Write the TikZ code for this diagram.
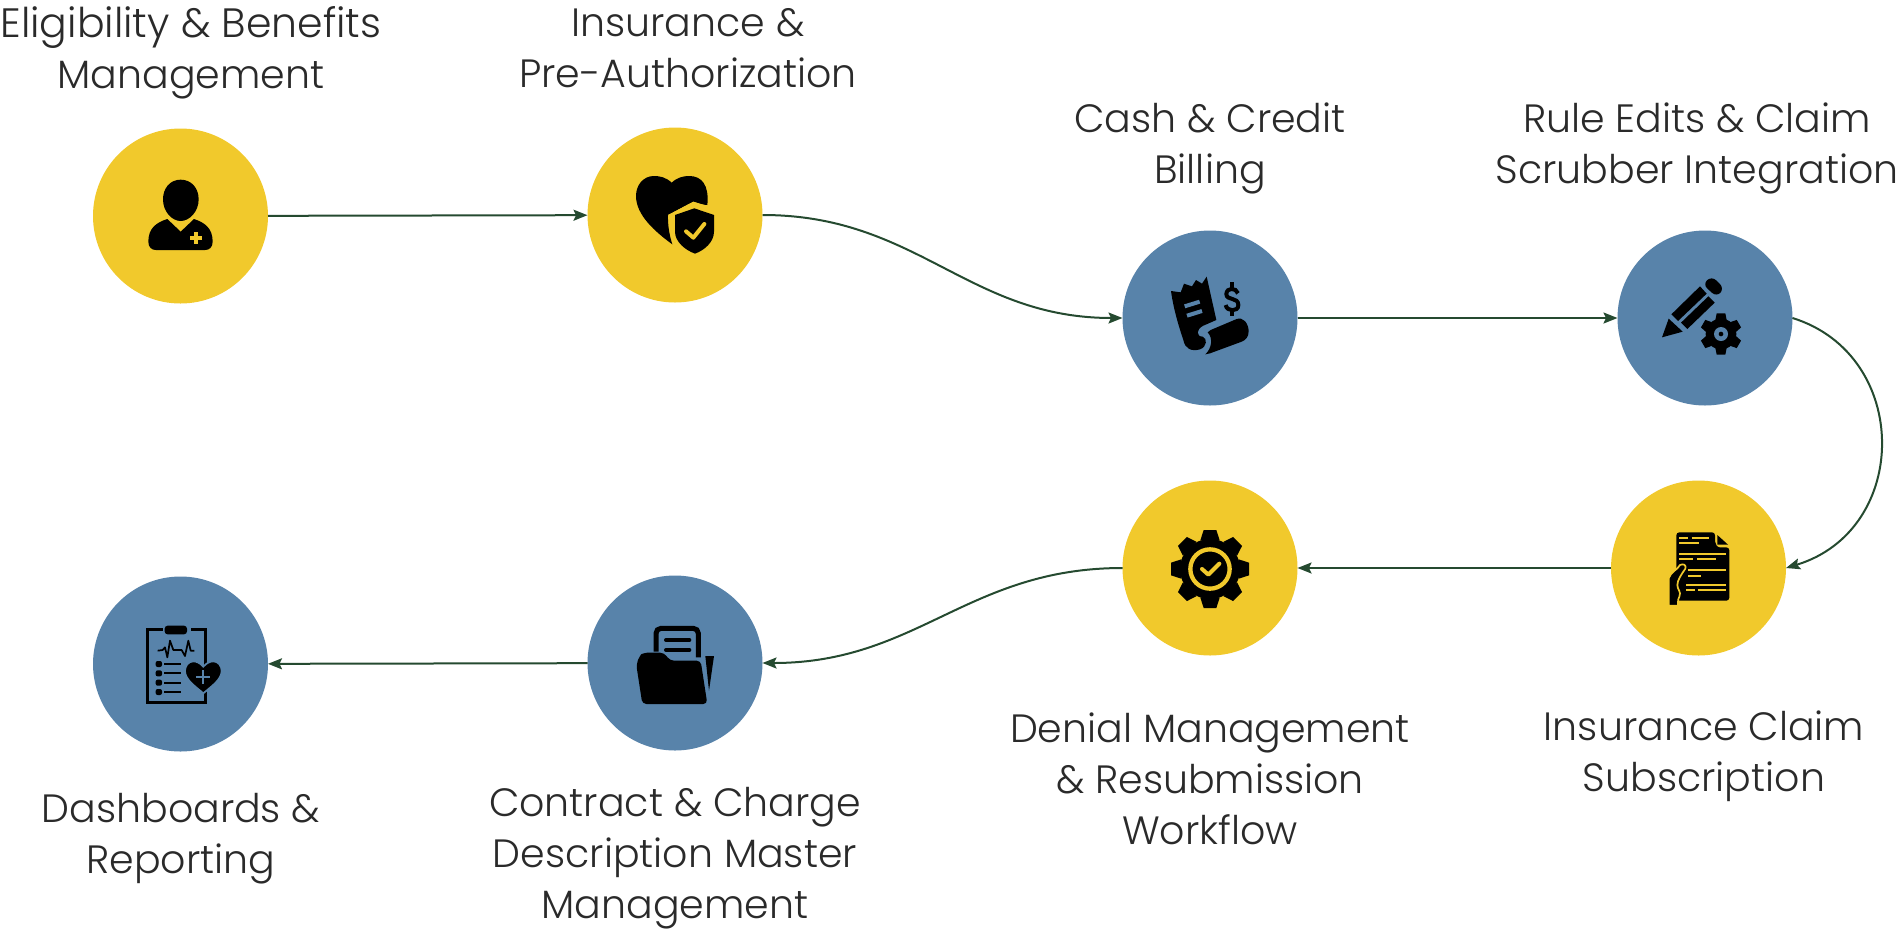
\documentclass[tikz,border=0pt]{standalone}
\usepackage{fontspec}
\setmainfont{Poppins Light}
\usetikzlibrary{arrows.meta}
\definecolor{ygold}{HTML}{F1C92C}
\definecolor{bsteel}{HTML}{5883AA}
\definecolor{gline}{HTML}{254A30}
\definecolor{ink}{HTML}{2A2A2A}
\newcommand{\gearicon}[8]{% cx cy rbody rtip basew tipw n start
  \fill (#1,#2) circle (#3);
  \foreach \i in {1,...,#7}{
    \pgfmathsetmacro{\ang}{#8+360/#7*\i}
    \fill[rotate around={\ang:(#1,#2)}] ({#1-#5/2},{#2-#3+4}) -- ({#1-#6/2},{#2-#4}) -- ({#1+#6/2},{#2-#4}) -- ({#1+#5/2},{#2-#3+4}) -- cycle;
  }
}
\tikzset{
  stage/.style={circle,minimum size=175pt,inner sep=0pt,outer sep=0pt,draw=none},
  ystage/.style={stage,fill=ygold},
  bstage/.style={stage,fill=bsteel},
  flow/.style={draw=gline,line width=2pt,-{Stealth[length=14pt,width=11pt,inset=2.5pt]}},
  lab/.style={align=center,text=ink,font=\fontsize{39.5}{51}\selectfont,inner sep=0pt},
  zoomed/.style={scale=1/3},
}
\begin{document}
\begin{tikzpicture}[x=1pt,y=-1pt]
\useasboundingbox (0,0) rectangle (1900,930);
% stages
\node[ystage] (c1) at (180.5,216) {};
\node[ystage] (c2) at (675,215) {};
\node[bstage] (c3) at (1210,318) {};
\node[bstage] (c4) at (1705,318) {};
\node[ystage] (c5) at (1698.5,568) {};
\node[ystage] (c6) at (1210,568) {};
\node[bstage] (c7) at (675,663) {};
\node[bstage] (c8) at (180.5,664) {};
% connectors
\draw[flow] (c1) -- (c2);
\draw[flow] (c2.east) .. controls +(155,0) and +(-155,0) .. (c3.west);
\draw[flow] (c3) -- (c4);
\draw[flow] (c4.east) .. controls +(119,37) and +(125,-38) .. (c5.east);
\draw[flow] (c5) -- (c6);
\draw[flow] (c6.west) .. controls +(-155,0) and +(155,0) .. (c7.east);
\draw[flow] (c7) -- (c8);
% labels
\node[lab] (l1) at (191,53) {{\fontsize{41}{51}\selectfont Eligibility \& Benefits}\\Management};
\node[lab] (l2) at (688,48.5) {Insurance \&\\Pre-Authorization};
\node[lab] (l3) at (1210,148) {Cash \& Credit\\Billing};
\node[lab] (l4) at (1697,148) {Rule Edits \& Claim\\Scrubber Integration};
\node[lab] (l5) at (1704,756) {Insurance Claim\\Subscription};
\node[lab] (l6) at (1210,779) {Denial Management\\\& Resubmission\\Workflow};
\node[lab] (l7) at (675,858) {Contract \& Charge\\Description Master\\Management};
\node[lab] (l8) at (181,839) {Dashboards \&\\Reporting};
% icon 1
\begin{scope}[shift={(90,120)},zoomed]
\fill (272,179) .. controls (305,179) and (326,205) .. (326,238) .. controls (326,275) and (298,303) .. (272,303) .. controls (246,303) and (219,275) .. (219,238) .. controls (219,205) and (240,179) .. (272,179) -- cycle;
\fill (232,297) -- (272,335) -- (312,297) .. controls (345,308) and (368,325) .. (368,365) .. controls (368,382) and (358,390) .. (345,390) -- (198,390) .. controls (185,390) and (175,382) .. (175,365) .. controls (175,325) and (198,308) .. (232,297) -- cycle;
\fill[ygold] (313,336) rectangle (325,372);
\fill[ygold] (301,348) rectangle (337,360);
\end{scope}
% icon 2
\begin{scope}[shift={(590,120)},zoomed]
\fill (245,188) .. controls (228,172) and (210,168) .. (192,168) .. controls (160,168) and (138,195) .. (138,228) .. controls (138,285) and (195,335) .. (247,373) .. controls (238,345) and (233,315) .. (234,285) -- (310,245) .. controls (325,250) and (340,255) .. (352,255) .. controls (358,195) and (335,168) .. (298,168) .. controls (280,168) and (262,172) .. (245,188) -- cycle;
\fill[ygold] (234,285) -- (310,245) -- (352,258) -- (352,290) -- (250,300) -- cycle;
\fill (255,285) -- (313,265) -- (372,285) -- (372,335) .. controls (372,365) and (345,390) .. (315,401) .. controls (285,390) and (255,365) .. (255,335) -- cycle;
\draw[ygold,line width=4pt,line cap=round,line join=round] (288,334) -- (310,353) -- (343,312);
\end{scope}
% icon 3
\begin{scope}[shift={(1110,225)},zoomed]
\fill (183,198) -- (212,202) -- (222,176) -- (246,184) -- (258,165) -- (276,176) -- (290,155) -- (319,285) -- (280,302) .. controls (258,312) and (258,335) .. (278,335) .. controls (292,340) and (292,365) .. (270,373) .. controls (245,380) and (225,372) .. (220,345) .. controls (205,300) and (190,250) .. (183,198) -- cycle;
\fill (302,315) -- (380,282) .. controls (400,275) and (415,295) .. (416,318) .. controls (416,335) and (408,345) .. (395,350) -- (300,385) -- (286,388) .. controls (305,370) and (310,340) .. (293,322) -- cycle;
\draw[bsteel,line width=4pt] (224,244) -- (269,230) (231,272) -- (276,258);
\begin{scope}[line width=4pt]
\draw (384,205) .. controls (378,187) and (350,187) .. (349,207) .. controls (349,228) and (385,215) .. (385,240) .. controls (385,262) and (350,260) .. (347,240);
\draw (367,172) -- (367,190) (367,256) -- (367,272);
\end{scope}
\end{scope}
% icon 4
\begin{scope}[shift={(1600,225)},zoomed]
\fill[rounded corners=6pt] (335,153) -- (373,190) -- (350,216) -- (308,178) -- cycle;
\fill (300,184) -- (320,206) -- (234,288) -- (214,268) -- cycle;
\fill (325,214) -- (344,233) -- (262,312) -- (243,293) -- cycle;
\fill (206,281) -- (248,320) -- (186,337) -- cycle;
\gearicon{363}{327}{46}{62}{34}{26}{6}{0}
\fill[bsteel] (363,327) circle (21);
\fill (363,327) circle (7);
\end{scope}
% icon 5
\begin{scope}[shift={(1600,470)},zoomed]
\fill[rounded corners=3pt] (229,187) -- (345,187) -- (345,205) .. controls (345,222) and (352,232) .. (368,232) -- (388,232) -- (388,392) -- (229,392) -- cycle;
\fill (352,195) -- (384,224) -- (352,224) -- cycle;
\begin{scope}[ygold,line width=2.2pt]
\draw (238,203) -- (264,203) (275,203) -- (328,203) (238,220) -- (298,220);
\draw (238,252) -- (378,252) (238,267) -- (280,267) (292,267) -- (347,267);
\draw (265,300) -- (378,300) (265,317) -- (303,317);
\draw (258,345) -- (378,345) (258,360) -- (284,360) (293,360) -- (378,360);
\end{scope}
\fill[draw=ygold,line width=1.7pt] (206,407) -- (206,325) .. controls (212,305) and (232,300) .. (240,285) .. controls (250,280) and (260,285) .. (256,296) .. controls (245,312) and (232,330) .. (232,345) .. controls (232,360) and (245,365) .. (238,380) .. controls (232,390) and (235,400) .. (234,407) -- cycle;
\end{scope}
% icon 6
\begin{scope}[shift={(1110,470)},zoomed]
\gearicon{300}{297}{90}{117}{58}{38}{8}{0}
\draw[ygold,line width=4.3pt] (300,297) circle (59);
\draw[ygold,line width=4pt,line cap=round,line join=round] (276,297) -- (295,314) -- (328,281);
\end{scope}
% icon 7
\begin{scope}[shift={(590,570)},zoomed]
\draw[line width=5pt,rounded corners=5pt] (198,245) -- (198,175) -- (325,175) -- (325,262);
\draw[line width=4pt,line cap=round] (228,210) -- (298,210) (228,240) -- (298,240);
\fill[rounded corners=4pt] (139,285) -- (148,258) -- (160,248) -- (222,248) -- (240,272) -- (332,272) -- (352,402) -- (157,402) -- cycle;
\fill (346,258) -- (372,258) -- (357,362) -- cycle;
\end{scope}
% icon 8
\begin{scope}[shift={(90,570)},zoomed]
\draw[line width=3pt] (218,178) -- (172,178) -- (172,398) -- (345,398) -- (345,178) -- (302,178);
\fill[rounded corners=3pt] (224,167) rectangle (291,193);
\draw[line width=1.7pt,line join=round] (203,242) -- (218,240) -- (225,232) -- (232,262) -- (240,212) -- (250,240) -- (275,240) -- (285,258) -- (295,212) -- (302,242) -- (313,242);
\foreach \yy in {282,310,338,366}{
  \fill[rounded corners=2pt] (197,\yy-9) rectangle (216,\yy+9);
  \draw[line width=1.7pt] (222,\yy) -- (272,\yy);
}
\fill[draw=bsteel,line width=1.7pt] (340,290) .. controls (330,278) and (318,274) .. (310,274) .. controls (295,274) and (285,288) .. (285,303) .. controls (285,330) and (320,352) .. (340,370) .. controls (360,352) and (395,330) .. (395,303) .. controls (395,288) and (385,274) .. (370,274) .. controls (362,274) and (350,278) .. (340,290) -- cycle;
\fill[bsteel] (337,299) rectangle (343,342);
\fill[bsteel] (319,317.5) rectangle (361,323.5);
\end{scope}
\end{tikzpicture}
\end{document}
